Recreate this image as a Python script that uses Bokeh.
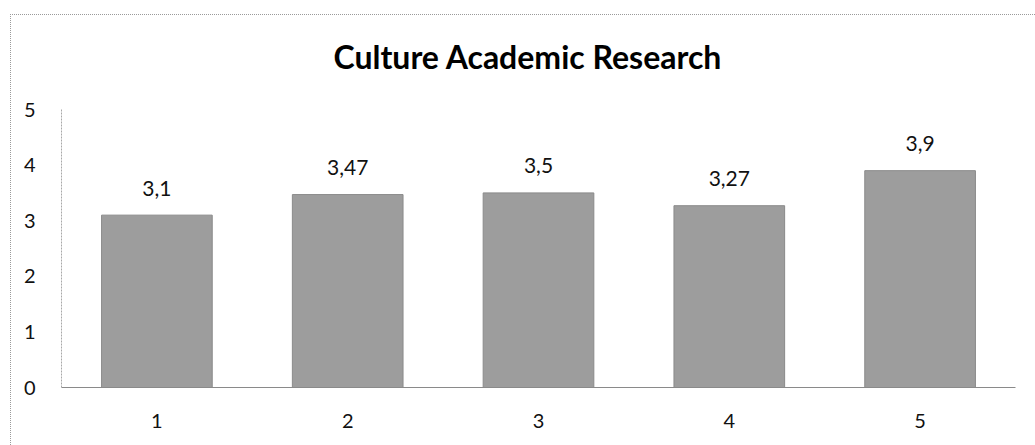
from bokeh.plotting import figure
from bokeh.models import Range1d, FixedTicker, ColumnDataSource, InlineStyleSheet
from bokeh.core.properties import value
from bokeh.embed import file_html
from bokeh.resources import INLINE

# Chart data
categories = [1, 2, 3, 4, 5]
scores = [3.1, 3.47, 3.5, 3.27, 3.9]
y_ticks = [0, 1, 2, 3, 4, 5]
title_text = "Culture Academic Research"

FONT = "Lato"

labels = [str(v).replace(".", ",") for v in scores]
src = ColumnDataSource(dict(x=categories, top=scores, label=labels))

p = figure(
    width=1035, height=445,
    x_range=Range1d(0.5, 5.5), y_range=Range1d(0, 5),
    output_backend="svg", toolbar_location=None,
    min_border_left=61, min_border_right=20,
    min_border_top=109, min_border_bottom=58,
    title=title_text,
)

# Dotted frame (left and top edges only) around the chart region
frame_css = InlineStyleSheet(css="""
:host { overflow: hidden; }
:host::after {
  content: "";
  position: absolute;
  left: 10px; top: 14px; right: -40px; bottom: -40px;
  border: none;
  border-left: 1px dotted #9a9a9a;
  border-top: 1px dotted #9a9a9a;
  pointer-events: none;
}
""")
p.stylesheets = [frame_css]

p.outline_line_color = None
p.xgrid.grid_line_color = None
p.ygrid.grid_line_color = None
p.background_fill_color = "white"
p.border_fill_color = "white"

# Title
p.title.align = "left"
p.title.text_font = FONT
p.title.text_font_size = "32px"
p.title.text_font_style = "bold"
p.title.text_color = "#000000"
p.title.standoff = 67
p.title.offset = 272

# Bars
p.vbar(x="x", top="top", width=0.58, source=src,
       fill_color="#9d9d9d", line_color="#8a8a8a", line_width=1)

# Value labels above the bars
p.text(x="x", y="top", text="label", source=src,
       text_font=value(FONT), text_font_size="21px", text_color="#111111",
       text_align="center", text_baseline="middle", y_offset=-27)

# Axes
p.yaxis.ticker = FixedTicker(ticks=y_ticks)
p.xaxis.ticker = FixedTicker(ticks=categories)
for ax in (p.xaxis, p.yaxis):
    ax.major_tick_line_color = None
    ax.minor_tick_line_color = None
    ax.major_label_text_font = FONT
    ax.major_label_text_font_size = "20px"
    ax.major_label_text_color = "#111111"
p.yaxis.axis_line_color = "#a8a8a8"
p.yaxis.axis_line_dash = "2 1"
p.yaxis.major_label_standoff = 20
p.xaxis.axis_line_color = "#8a8a8a"
p.xaxis.major_label_standoff = 20

open("out.html", "w").write(file_html(p, INLINE))
